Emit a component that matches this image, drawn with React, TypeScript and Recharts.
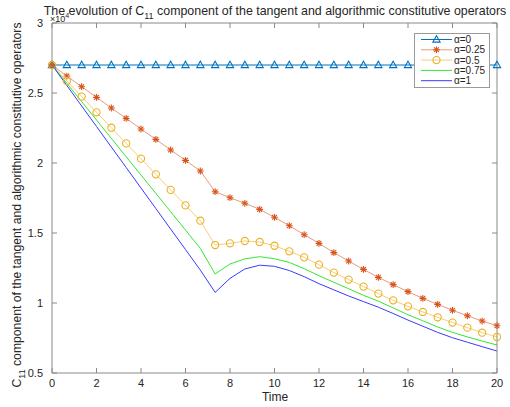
import React from "react";
import { LineChart, Line, XAxis, YAxis } from "recharts";

// time steps (dt = 2/3)
const TIME = [
  0, 0.667, 1.333, 2, 2.667, 3.333, 4, 4.667, 5.333, 6, 6.667, 7.333, 8, 8.667, 9.333, 10,
  10.667, 11.333, 12, 12.667, 13.333, 14, 14.667, 15.333, 16, 16.667, 17.333, 18, 18.667,
  19.333, 20,
];

// C11 values (x 1e4) for each alpha
const ALPHA_0 = [
  2.7, 2.7, 2.7, 2.7, 2.7, 2.7, 2.7, 2.7, 2.7, 2.7, 2.7, 2.7, 2.7, 2.7, 2.7, 2.7, 2.7, 2.7,
  2.7, 2.7, 2.7, 2.7, 2.7, 2.7, 2.7, 2.7, 2.7, 2.7, 2.7, 2.7, 2.7,
];
const ALPHA_025 = [
  2.7, 2.621, 2.545, 2.469, 2.393, 2.319, 2.243, 2.169, 2.093, 2.019, 1.943, 1.795, 1.752,
  1.712, 1.669, 1.612, 1.552, 1.488, 1.426, 1.36, 1.3, 1.24, 1.183, 1.131, 1.081, 1.033, 0.99,
  0.948, 0.909, 0.871, 0.838,
];
const ALPHA_05 = [
  2.7, 2.586, 2.474, 2.362, 2.252, 2.14, 2.031, 1.919, 1.808, 1.697, 1.588, 1.414, 1.426,
  1.443, 1.436, 1.409, 1.369, 1.326, 1.274, 1.217, 1.167, 1.117, 1.067, 1.019, 0.976, 0.936,
  0.898, 0.86, 0.824, 0.788, 0.757,
];
const ALPHA_075 = [
  2.7, 2.569, 2.438, 2.307, 2.176, 2.045, 1.914, 1.783, 1.652, 1.521, 1.39, 1.207, 1.279,
  1.315, 1.331, 1.316, 1.29, 1.245, 1.195, 1.148, 1.102, 1.055, 1.013, 0.965, 0.916, 0.873,
  0.829, 0.79, 0.758, 0.728, 0.7,
];
const ALPHA_1 = [
  2.7, 2.554, 2.407, 2.261, 2.114, 1.968, 1.821, 1.675, 1.528, 1.382, 1.235, 1.076, 1.176,
  1.243, 1.27, 1.262, 1.232, 1.188, 1.138, 1.094, 1.05, 1.01, 0.97, 0.925, 0.878, 0.834, 0.79,
  0.752, 0.72, 0.688, 0.657,
];

const X_TICKS = [0, 2, 4, 6, 8, 10, 12, 14, 16, 18, 20];
const Y_TICKS = [0.5, 1, 1.5, 2, 2.5, 3];

const rows = TIME.map((t, i) => ({
  t,
  a0: ALPHA_0[i],
  a025: ALPHA_025[i],
  a05: ALPHA_05[i],
  a075: ALPHA_075[i],
  a1: ALPHA_1[i],
}));

const FONT = "'Liberation Sans', Arial, Helvetica, sans-serif";
const AXIS = "#8a8a8a";
const INK = "#262626";

const BLUE = "#0072BD";
const ORANGE = "#D95319";
const GOLD = "#EDB120";
const GREEN = "#33e633";
const PURE_BLUE = "#3b3bff";

type Mark = "tri" | "star" | "circ" | "none";

function marker(kind: Mark, cx: number, cy: number, color: string, key?: string) {
  if (kind === "tri") {
    return (
      <path
        key={key}
        d={`M${cx},${cy - 3.8} L${cx + 3.6},${cy + 2.6} L${cx - 3.6},${cy + 2.6} Z`}
        fill="none"
        stroke={color}
        strokeWidth={1.1}
      />
    );
  }
  if (kind === "star") {
    const r = 3.4;
    const d = 2.4;
    return (
      <g key={key} stroke={color} strokeWidth={1.1}>
        <line x1={cx - r} y1={cy} x2={cx + r} y2={cy} />
        <line x1={cx} y1={cy - r} x2={cx} y2={cy + r} />
        <line x1={cx - d} y1={cy - d} x2={cx + d} y2={cy + d} />
        <line x1={cx - d} y1={cy + d} x2={cx + d} y2={cy - d} />
      </g>
    );
  }
  if (kind === "circ") {
    return <circle key={key} cx={cx} cy={cy} r={3.6} fill="none" stroke={color} strokeWidth={1.1} />;
  }
  return <g key={key} />;
}

const dotFor = (kind: Mark, color: string) => (p: any) => {
  if (p.cx == null || p.cy == null) return <g key={p.key} />;
  return marker(kind, p.cx, p.cy, color, `${kind}-${p.index}`);
};

const LEGEND: { label: string; color: string; mark: Mark; line: string }[] = [
  { label: "α=0", color: BLUE, mark: "tri", line: BLUE },
  { label: "α=0.25", color: ORANGE, mark: "star", line: "#eb9a7a" },
  { label: "α=0.5", color: GOLD, mark: "circ", line: "#f5cf7a" },
  { label: "α=0.75", color: GREEN, mark: "none", line: GREEN },
  { label: "α=1", color: PURE_BLUE, mark: "none", line: PURE_BLUE },
];

function LegendBox() {
  return (
    <svg width={76} height={55} style={{ position: "absolute", left: 414, top: 33 }}>
      <rect x={0.5} y={0.5} width={75} height={54} fill="#fff" stroke="#9a9a9a" strokeWidth={1} />
      {LEGEND.map((e, i) => {
        const y = 6.5 + i * 10.3;
        return (
          <g key={e.label}>
            <line x1={7} y1={y} x2={38} y2={y} stroke={e.line} strokeWidth={1} />
            {marker(e.mark, 22.5, y, e.color)}
            <text x={40} y={y + 3.5} fontSize={10} fontFamily={FONT} fill={INK}>
              {e.label}
            </text>
          </g>
        );
      })}
    </svg>
  );
}

const tickStyle = { fill: INK, fontSize: 11, fontFamily: FONT };

export default function App() {
  return (
    <div style={{ position: "absolute", left: 0, top: 0, width: 510, height: 407, background: "#fff" }}>
      <LineChart width={510} height={407} data={rows} margin={{ top: 22, right: 12, bottom: 0, left: 0 }}>
        <XAxis
          dataKey="t"
          type="number"
          domain={[0, 20]}
          ticks={X_TICKS}
          height={34}
          tickSize={-5}
          tickMargin={11}
          stroke={AXIS}
          tick={tickStyle}
          interval={0}
        />
        <XAxis
          xAxisId="top"
          orientation="top"
          dataKey="t"
          type="number"
          domain={[0, 20]}
          ticks={X_TICKS}
          height={1}
          tickSize={-5}
          stroke={AXIS}
          tick={() => <g />}
          interval={0}
        />
        <YAxis
          type="number"
          domain={[0.5, 3]}
          ticks={Y_TICKS}
          width={52}
          tickSize={-5}
          tickMargin={14}
          stroke={AXIS}
          tick={tickStyle}
          interval={0}
          allowDataOverflow
        />
        <YAxis
          yAxisId="right"
          orientation="right"
          type="number"
          domain={[0.5, 3]}
          ticks={Y_TICKS}
          width={1}
          tickSize={-5}
          stroke={AXIS}
          tick={() => <g />}
          interval={0}
          allowDataOverflow
        />
        {/* invisible series that binds the top and right frame axes */}
        <Line xAxisId="top" yAxisId="right" dataKey="a0" stroke="none" dot={false} legendType="none" isAnimationActive={false} />
        <Line type="linear" dataKey="a0" name="α=0" stroke={BLUE} strokeWidth={1} dot={dotFor("tri", BLUE)} isAnimationActive={false} />
        <Line type="linear" dataKey="a025" name="α=0.25" stroke="#eb9a7a" strokeWidth={1} dot={dotFor("star", ORANGE)} isAnimationActive={false} />
        <Line type="linear" dataKey="a05" name="α=0.5" stroke="#f5cf7a" strokeWidth={1} dot={dotFor("circ", GOLD)} isAnimationActive={false} />
        <Line type="linear" dataKey="a075" name="α=0.75" stroke={GREEN} strokeWidth={1} dot={false} isAnimationActive={false} />
        <Line type="linear" dataKey="a1" name="α=1" stroke={PURE_BLUE} strokeWidth={1} dot={false} isAnimationActive={false} />
      </LineChart>

      <LegendBox />

      <svg
        width={510}
        height={407}
        style={{ position: "absolute", left: 0, top: 0, pointerEvents: "none" }}
        fontFamily={FONT}
        fill={INK}
      >
        <text x={50} y={22} fontSize={9}>
          ×10
          <tspan dy={-4} fontSize={7}>4</tspan>
        </text>
        <text x={275} y={15} fontSize={12.4} textAnchor="middle">
          The evolution of C
          <tspan dy={4} fontSize={9}>11</tspan>
          <tspan dy={-4}> component of the tangent and algorithmic constitutive operators</tspan>
        </text>
        <text transform="translate(21,205) rotate(-90)" fontSize={12.2} textAnchor="middle">
          C
          <tspan dy={4} fontSize={9}>11</tspan>
          <tspan dy={-4}> component of the tangent and algorithmic constitutive operators</tspan>
        </text>
        <text x={275} y={401} fontSize={12} textAnchor="middle">
          Time
        </text>
      </svg>
    </div>
  );
}
